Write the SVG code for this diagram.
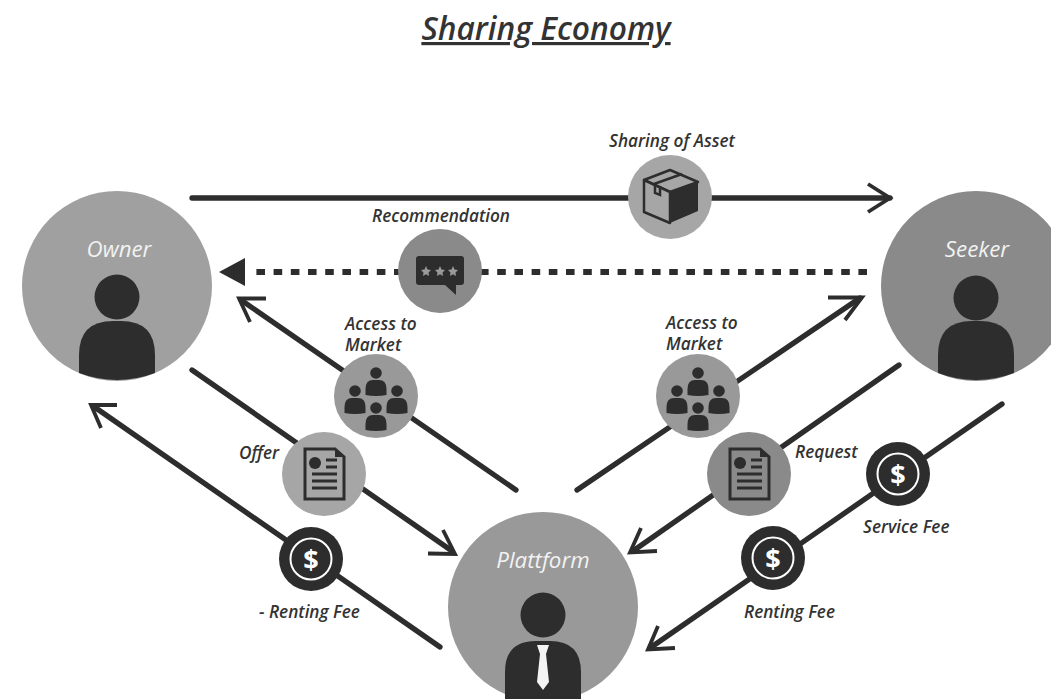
<svg xmlns="http://www.w3.org/2000/svg" width="1051" height="699" viewBox="0 0 1051 699">
<style>
text{font-family:"Open Sans","Noto Sans","Liberation Sans",sans-serif;font-style:italic;font-weight:600;fill:#333}
.lab{font-size:17.200px}
.big{font-size:22.300px;fill:#f2f2f2;font-weight:500}
.title{font-size:31.700px;text-decoration:underline}
.ln{fill:none;stroke:#2d2d2d;stroke-width:5.300;stroke-linecap:round}
.hd{fill:none;stroke:#2d2d2d;stroke-width:3.800;stroke-linecap:butt;stroke-linejoin:miter}
.dk{fill:#2d2d2d}
.doc{fill:none;stroke:#2d2d2d;stroke-width:3}
.dollar{font-family:"Open Sans","Liberation Sans",sans-serif;font-style:normal;font-weight:700;font-size:27px;fill:#fff;text-anchor:middle}
</style>
<defs>
<path id="person" class="dk" d="M-38 87V69Q-38 35-4 35H4Q38 35 38 69V87Q0 101-38 87Z"/>
<g id="mini"><circle class="dk" cy="-11" r="5.800"/><path class="dk" d="M-10.500 11V5Q-10.500-4-3-4H3Q10.500-4 10.500 5V11Q0 13-10.500 11Z"/></g>
<g id="crowd"><use href="#mini" x="0" y="-12"/><use href="#mini" x="-21" y="6"/><use href="#mini" x="21" y="6"/><use href="#mini" x="0" y="23"/></g>
<g id="docicon"><path class="doc" d="M-19-25H11L20-17V25H-19Z"/><path class="dk" d="M11-25L20-17H11Z"/><circle class="dk" cx="-9" cy="-11" r="6"/><path class="doc" stroke-width="2.500" d="M2-14H13M2-7H13M-12 0H13M-12 7H13M-12 14H13"/></g>
<g id="fee"><circle class="dk" r="32"/><circle r="20.500" fill="none" stroke="#fff" stroke-width="2"/><text class="dollar" y="9.500">$</text></g>
</defs>
<rect width="1051" height="699" fill="#fff"/>
<text class="title" x="546" y="40" text-anchor="middle">Sharing Economy</text>
<g id="connectors">
<path class="ln" d="M192 198H890"/><path class="hd" d="M868 184L890 198L868 212" stroke-width="4.500"/>
<path d="M867 272H253" fill="none" stroke="#2d2d2d" stroke-width="6" stroke-dasharray="8.600 8.600"/><path class="dk" d="M219 272L245 258V286Z"/>
<path class="ln" d="M516 490L241 300"/><path class="hd" d="M266 298.500H239L250 322"/>
<path class="ln" d="M192 370L452 551"/><path class="hd" d="M443 530L455 554L428 553.500"/>
<path class="ln" d="M440 647L93 406"/><path class="hd" d="M117 405H91L101 428"/>
<path class="ln" d="M577 490L860 298"/><path class="hd" d="M828 297.500H862L845 320"/>
<path class="ln" d="M899 365L633 551"/><path class="hd" d="M641 528L630 552.500L657 551"/>
<path class="ln" d="M1002 404L650 648"/><path class="hd" d="M658 626L648 649.500L675 648"/>
</g>
<g id="owner"><circle cx="117" cy="286" r="95" fill="#a0a0a0"/><circle class="dk" cx="117" cy="297" r="22.500"/><use href="#person" x="117" y="286"/><text class="big" x="119" y="257" text-anchor="middle">Owner</text></g>
<g id="seeker"><circle cx="976" cy="286" r="95" fill="#8a8a8a"/><circle class="dk" cx="976" cy="298" r="22.500"/><use href="#person" x="976" y="286"/><text class="big" x="977" y="257" text-anchor="middle">Seeker</text></g>
<g id="plattform"><circle cx="543" cy="607" r="95" fill="#999"/><circle class="dk" cx="543" cy="615" r="22.500"/><path class="dk" d="M505 699V672Q505 641 536 641H550Q581 641 581 672V699Z"/><path d="M537 645H549L546 654L549 682L543 690L537 682L540 654Z" fill="#f4f4f4"/><text class="big" x="543" y="568" text-anchor="middle">Plattform</text></g>
<g id="sharing-of-asset"><circle cx="670" cy="197" r="42" fill="#a6a6a6"/>
<path d="M644 180L670 170L698 182L670 192Z" fill="#a6a6a6" stroke="#2d2d2d" stroke-width="2.500" stroke-linejoin="round"/>
<path d="M644 180V212L670 223V192Z" fill="#a6a6a6" stroke="#2d2d2d" stroke-width="2.500" stroke-linejoin="round"/>
<path class="dk" d="M670 192L698 182V211L670 223Z"/>
<path d="M654 184L682 174M660 186V195L655 193V184" fill="none" stroke="#2d2d2d" stroke-width="2.500"/>
<text class="lab" x="672" y="147" text-anchor="middle">Sharing of Asset</text></g>
<g id="recommendation"><circle cx="440" cy="271" r="42" fill="#8a8a8a"/><path class="dk" d="M419 256H461Q464 256 464 259V282Q464 285 461 285H456V295L445 285H419Q416 285 416 282V259Q416 256 419 256Z"/>
<g fill="#9a9a9a"><path id="st" d="M426 266L427.500 269.500L431 270L428.500 272.500L429 276L426 274.200L423 276L423.500 272.500L421 270L424.500 269.500Z"/><use href="#st" x="14"/><use href="#st" x="27"/></g>
<text class="lab" x="441" y="222" text-anchor="middle">Recommendation</text></g>
<g id="access-left"><circle cx="376" cy="396" r="42" fill="#999"/><use href="#crowd" x="376" y="396"/><text class="lab" x="345" y="330">Access to</text><text class="lab" x="345" y="351">Market</text></g>
<g id="access-right"><circle cx="698" cy="396" r="42" fill="#999"/><use href="#crowd" x="698" y="396"/><text class="lab" x="666" y="329">Access to</text><text class="lab" x="666" y="350">Market</text></g>
<g id="offer"><circle cx="324" cy="474" r="42" fill="#a6a6a6"/><use href="#docicon" x="324" y="474"/><text class="lab" x="239" y="459">Offer</text></g>
<g id="request"><circle cx="749" cy="474" r="42" fill="#8a8a8a"/><use href="#docicon" x="749" y="474"/><text class="lab" x="795" y="458">Request</text></g>
<g id="minus-renting-fee"><use href="#fee" x="311" y="559"/><text class="lab" x="259" y="618">- Renting Fee</text></g>
<g id="service-fee"><use href="#fee" x="898" y="474"/><text class="lab" x="863" y="533">Service Fee</text></g>
<g id="renting-fee"><use href="#fee" x="773" y="558"/><text class="lab" x="744" y="618">Renting Fee</text></g>
</svg>
